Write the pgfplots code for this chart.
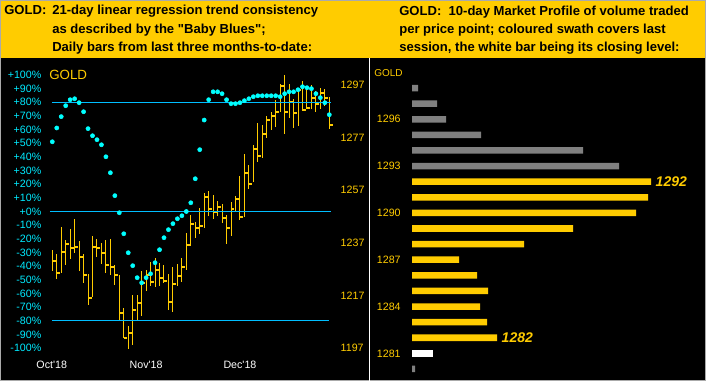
\documentclass[border=0pt]{standalone}
\usepackage{pgfplots}
\pgfplotsset{compat=1.18}
\usepackage{pgfplotstable}
\usepackage{fontspec}
\setmainfont{Liberation Sans}
\definecolor{gold}{RGB}{255,204,0}
\definecolor{dotcyan}{RGB}{0,255,255}
\definecolor{linecyan}{RGB}{0,190,255}
\definecolor{labcyan}{RGB}{0,235,255}
\definecolor{mpgrey}{RGB}{128,128,128}
\definecolor{frame}{RGB}{170,170,170}
\pgfdeclareplotmark{closetick}{\pgfpathmoveto{\pgfqpoint{0pt}{0pt}}\pgfpathlineto{\pgfqpoint{2.6pt}{0pt}}\pgfusepathqstroke}

\pgfplotstableread{
x H L C
1 1234.3 1226.4 1230.2
2 1232.7 1223.1 1225.4
3 1242.9 1225.4 1233.6
4 1238.1 1228.7 1236.5
5 1242.2 1230.7 1234.9
6 1246.0 1233.0 1235.5
7 1237.7 1226.4 1231.5
8 1232.7 1221.6 1224.9
9 1225.1 1213.5 1216.1
10 1239.6 1216.3 1235.5
11 1238.4 1231.7 1234.9
12 1236.9 1228.9 1233.2
13 1238.1 1225.4 1228.7
14 1238.4 1224.6 1227.9
15 1228.6 1221.1 1224.9
16 1224.9 1207.4 1210.4
17 1212.2 1200.7 1200.9
18 1205.4 1196.7 1202.8
19 1217.2 1198.3 1211.6
20 1217.2 1207.4 1214.2
21 1226.3 1209.3 1221.8
22 1226.7 1218.8 1224.9
23 1229.7 1220.7 1222.2
24 1231.2 1220.3 1226.8
25 1229.3 1220.7 1223.7
26 1228.6 1221.8 1222.6
27 1225.1 1211.6 1214.6
28 1227.8 1210.8 1221.4
29 1228.9 1220.7 1224.5
30 1231.2 1222.2 1227.9
31 1240.7 1226.8 1236.3
32 1247.6 1235.9 1244.3
33 1244.9 1238.9 1242.7
34 1250.2 1240.5 1243.5
35 1255.9 1242.7 1254.5
36 1256.7 1247.3 1250.0
37 1255.2 1246.2 1248.8
38 1252.9 1247.3 1250.7
39 1251.8 1244.6 1246.5
40 1247.6 1236.7 1242.7
41 1252.4 1239.7 1250.0
42 1254.8 1249.2 1253.8
43 1262.4 1245.7 1246.9
44 1270.8 1246.9 1263.7
45 1266.6 1257.5 1259.5
46 1274.2 1260.1 1272.7
47 1282.6 1267.7 1270.1
48 1281.8 1269.2 1278.5
49 1285.2 1276.8 1283.7
50 1286.7 1280.0 1285.2
51 1291.3 1281.0 1286.7
52 1297.4 1286.7 1296.7
53 1300.8 1278.5 1286.7
54 1297.4 1284.5 1290.7
55 1291.7 1280.7 1286.5
56 1295.9 1281.4 1295.2
57 1298.5 1287.2 1287.6
58 1295.9 1287.9 1288.4
59 1297.0 1287.9 1292.2
60 1294.8 1286.8 1289.9
61 1295.9 1287.9 1294.1
62 1295.5 1289.0 1292.2
63 1292.4 1280.4 1281.9
}\hlc

\pgfplotstableread{
x q
1 51.1
2 61.2
3 69.5
4 77.5
5 81.9
6 82.6
7 79.7
8 73.1
9 60.7
10 55.5
11 52.6
12 48.9
13 40.1
14 28.4
15 11.6
16 -0.9
17 -16.3
18 -30.2
19 -39.7
20 -48.5
21 -52.2
22 -48.5
23 -45.6
24 -37.5
25 -28.0
26 -19.2
27 -13.3
28 -8.9
29 -5.3
30 -3.1
31 0.0
32 6.4
33 24.0
34 45.3
35 67.0
36 81.9
37 87.7
38 87.7
39 86.3
40 81.9
41 79.0
42 79.0
43 79.7
44 81.2
45 82.6
46 84.1
47 84.8
48 84.8
49 84.8
50 84.8
51 84.8
52 84.1
53 86.3
54 87.7
55 87.7
56 89.2
57 91.4
58 90.7
59 90.0
60 86.3
61 83.4
62 79.7
63 70.9
}\blues

\begin{document}
\begin{tikzpicture}
\useasboundingbox (0,0) rectangle (529.5pt,-285.75pt);
\fill[black] (0,0) rectangle (529.5pt,-285.75pt);
\fill[gold] (0,0) rectangle (529.5pt,-43.5pt);
\draw[frame, line width=0.75pt] (0.375pt,-0.375pt) rectangle (529.125pt,-285.375pt);
\draw[white, line width=0.75pt] (276.75pt,-43.5pt) -- (276.75pt,-285.75pt);

% ---------- left panel: price bars ----------
\begin{axis}[at={(34.5pt,-46.5pt)}, anchor=north west,
  width=217.5pt, height=220.5pt, scale only axis,
  xmin=-0.41, xmax=64.5, ymin=1193.96, ymax=1305.75,
  axis line style={draw=none}, major tick length=0pt,
  xtick=\empty,
  ytick={1197,1217,1237,1257,1277,1297},
  yticklabels={1197,1217,1237,1257,1277,1297},
  yticklabel pos=right,
  yticklabel style={text=gold, font=\fontsize{8}{9}\selectfont}]
\addplot[draw=none, mark=none,
  error bars/.cd, y dir=both, y explicit, error mark=none,
  error bar style={draw=gold, line width=0.75pt}]
  table[x=x, y expr={(\thisrow{H}+\thisrow{L})/2},
        y error expr={(\thisrow{H}-\thisrow{L})/2}] {\hlc};
\addplot[only marks, mark=closetick, gold, mark options={line width=1.5pt}]
  table[x=x, y=C] {\hlc};
\end{axis}

% ---------- left panel: baby blues ----------
\begin{axis}[at={(34.5pt,-46.5pt)}, anchor=north west,
  width=217.5pt, height=220.5pt, scale only axis,
  xmin=-0.41, xmax=64.5, ymin=-105.86, ymax=109.52,
  axis line style={draw=none}, major tick length=0pt,
  xtick={0.87,22,43},
  xticklabels={Oct\textquotesingle18, Nov\textquotesingle18, Dec\textquotesingle18},
  xticklabel style={text=white, font=\fontsize{8}{9}\selectfont},
  ytick={-100,-90,-80,-70,-60,-50,-40,-30,-20,-10,0,10,20,30,40,50,60,70,80,90,100},
  yticklabels={-100\%,-90\%,-80\%,-70\%,-60\%,-50\%,-40\%,-30\%,-20\%,-10\%,+0\%,+10\%,+20\%,+30\%,+40\%,+50\%,+60\%,+70\%,+80\%,+90\%,+100\%},
  yticklabel style={text=labcyan, font=\fontsize{8}{9}\selectfont}]
\addplot[linecyan, line width=0.85pt] coordinates {(0.9,80) (63.4,80)};
\addplot[linecyan, line width=0.85pt] coordinates {(0.45,0) (63.4,0)};
\addplot[linecyan, line width=0.85pt] coordinates {(0.9,-80) (63.0,-80)};
\addplot[only marks, mark=*, mark size=1.55pt, dotcyan, mark options={draw=dotcyan, fill=dotcyan}]
  table[x=x, y=q] {\blues};
\end{axis}

% ---------- right panel: market profile ----------
\begin{axis}[at={(309pt,-46.5pt)}, anchor=north west,
  width=216pt, height=237pt, scale only axis,
  xmin=0, xmax=288, ymin=1279.42, ymax=1299.67,
  axis line style={draw=none}, major tick length=0pt,
  xtick=\empty, clip=false,
  ytick={1281,1284,1287,1290,1293,1296},
  yticklabels={1281,1284,1287,1290,1293,1296},
  yticklabel style={text=gold, font=\fontsize{8}{9}\selectfont, xshift=-5pt}]
\addplot[xbar, bar width=4.9pt, bar shift=0pt, fill=mpgrey, draw=none]
  coordinates {(6,1298) (25,1297) (34,1296) (69,1295) (171,1294) (207,1293) (3,1280)};
\addplot[xbar, bar width=4.9pt, bar shift=0pt, fill=gold, draw=none]
  coordinates {(236,1291) (224,1290) (161,1289) (112,1288) (47,1287) (65,1286) (76,1285) (68,1284) (75,1283)};
\addplot[xbar, bar width=4.9pt, bar shift=0pt, fill=white, draw=none]
  coordinates {(21,1281)};
\addplot[xbar, bar width=4.9pt, bar shift=0pt, fill=gold, draw=none,
  point meta=explicit symbolic, nodes near coords,
  nodes near coords style={anchor=west, text=gold, font=\bfseries\itshape\fontsize{10.5}{12}\selectfont}]
  coordinates {(239,1292)[1292] (85,1282)[1282]};
\end{axis}

% ---------- panel labels ----------
\node[anchor=west, inner sep=0pt, text=gold, font=\fontsize{10}{12}\selectfont] at (36.75pt,-56.25pt) {GOLD};
\node[anchor=west, inner sep=0pt, text=gold, font=\fontsize{7.5}{9}\selectfont] at (280.5pt,-54.75pt) {GOLD};

% ---------- headers ----------
\begin{scope}[every node/.style={anchor=base west, inner sep=0pt, font=\bfseries\fontsize{9.8}{11}\selectfont}]
\node at (3pt,-11.25pt) {GOLD:};
\node at (39pt,-11.25pt) {21-day linear regression trend consistency};
\node at (39pt,-25pt) {as described by the \textquotedbl Baby Blues\textquotedbl;};
\node at (39pt,-38.75pt) {Daily bars from last three months-to-date:};
\node at (299.25pt,-11.5pt) {GOLD:\ \ 10-day Market Profile of volume traded};
\node at (299.25pt,-25.25pt) {per price point; coloured swath covers last};
\node at (299.25pt,-39pt) {session, the white bar being its closing level:};
\end{scope}
\end{tikzpicture}
\end{document}
